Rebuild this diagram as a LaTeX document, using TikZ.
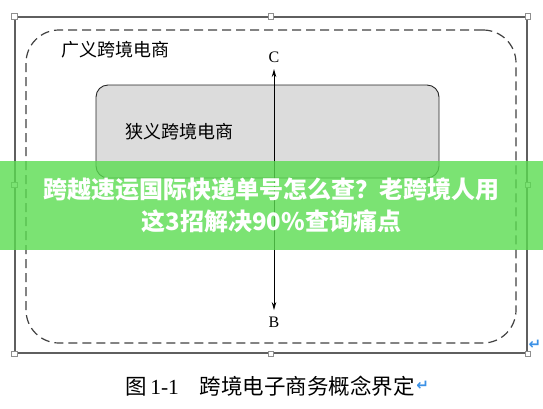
\documentclass[tikz,border=0pt]{standalone}
\usepackage{fontspec}
\setmainfont{Liberation Serif}
\newfontfamily\cjk{Noto Sans CJK SC}
\newfontfamily\symfont{DejaVu Sans}
\usetikzlibrary{
  arrows.meta,
  positioning
}
\definecolor{frameline}{RGB}{95,95,95}
\definecolor{boxgray}{RGB}{220,220,220}
\definecolor{banner}{RGB}{90,220,80}
\definecolor{retmark}{RGB}{60,145,230}

\begin{document}
\begin{tikzpicture}[
  x=1pt, y=-1pt,
  every node/.style={inner sep=0pt},
  handle/.style={draw=frameline!70, fill=white, line width=0.6pt, minimum size=5.5pt},
  areatext/.style={font=\cjk\fontsize{18}{18}\selectfont, anchor=west},
  letter/.style={font=\fontsize{16}{16}\selectfont, inner sep=6.5pt},
  retsign/.style={font=\symfont\bfseries\fontsize{15}{15}\selectfont, text=retmark},
  >={Stealth[length=8pt,width=4.5pt]}
]
\useasboundingbox (0,0) rectangle (543,408);

% ── Frame ──
\node[draw=frameline, line width=1.5pt, minimum width=512pt, minimum height=336pt]
  (frame) at (271,185) {};

% ── Broad / narrow areas ──
\node[draw=black!75, line width=1.2pt, dash pattern=on 9pt off 5pt, rounded corners=33pt,
      minimum width=490pt, minimum height=313pt] (broad) at (271,186.5) {};
\node[areatext] (broadtxt) at (61,50) {广义跨境电商};

\node[draw=black!85, fill=boxgray, line width=0.9pt, rounded corners=12pt,
      minimum width=343pt, minimum height=93pt] (narrow) at (267.5,131.5) {};
\node[areatext] (narrowtxt) at (125,132) {狭义跨境电商};

% ── Axis C -- B ──
\node[letter] (C) at (274,57) {C};
\node[letter] (B) at (274,322) {B};
\draw[<->, line width=1pt] (C) -- (B);

% ── Handles ──
\foreach \a in {north west, north, north east, west, east, south west, south, south east}
  \node[handle] (h \a) at (frame.\a) {};

\node[retsign] (ret1) at (535,345) {↵};

% ── Banner ──
\node[fill=banner, fill opacity=0.8, text opacity=1, text=white, align=center,
      minimum width=543pt, minimum height=89pt,
      font=\cjk\bfseries\fontsize{24}{32}\selectfont] (banner) at (271.5,205.5)
  {跨越速运国际快递单号怎么查？老跨境人用\\这3招解决90\%查询痛点};

% ── Caption ──
\node[anchor=west, font=\fontsize{21.5}{22}\selectfont] (caption) at (125,386)
  {{\cjk 图}\,1-1\hspace{21pt}{\cjk 跨境电子商务概念界定}};
\node[retsign, right=1pt of caption] (ret2) {↵};

\end{tikzpicture}
\end{document}
